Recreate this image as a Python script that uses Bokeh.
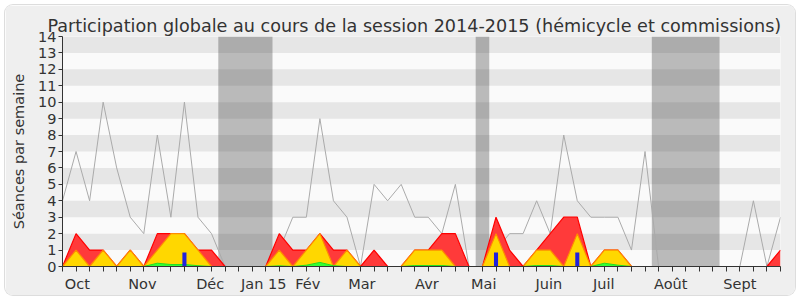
from bokeh.plotting import figure
from bokeh.models import Range1d, FixedTicker, BoxAnnotation, LinearAxis, CustomJSTickFormatter
from bokeh.embed import file_html
from bokeh.resources import INLINE

weeks = list(range(54))
total = [4, 7, 4, 10, 6, 3, 2, 8, 3, 10, 3, 2, 0, 0, 0, 0, 1, 3, 3, 9, 4, 3, 0, 5, 4, 5, 3,
         3, 2, 5, 0, 0, 1, 2, 2, 4, 2, 8, 4, 3, 3, 3, 1, 7, 0, 0, 0, 0, 0, 0, 0, 4, 0, 3]
red = [0, 2, 1, 1, 0, 1, 0, 2, 2, 2, 1, 1, 0, 0, 0, 0, 2, 1, 1, 2, 1, 1, 0, 1, 0, 0, 1,
       1, 2, 2, 0, 0, 3, 1, 0, 1, 2, 3, 3, 0, 1, 1, 0, 0, 0, 0, 0, 0, 0, 0, 0, 0, 0, 1]
yellow = [0, 1, 0, 1, 0, 1, 0, 1, 2, 2, 1, 0, 0, 0, 0, 0, 1, 0, 1, 2, 0, 1, 0, 0, 0, 0, 1,
          1, 1, 0, 0, 0, 2, 0, 0, 1, 1, 0, 2, 0, 1, 1, 0, 0, 0, 0, 0, 0, 0, 0, 0, 0, 0, 0]
green = [0, 0, 0, 0, 0, 0, 0, 0.2, 0.12, 0.12, 0.05, 0, 0, 0, 0, 0, 0.04, 0, 0.08, 0.25, 0.05,
         0, 0, 0, 0, 0, 0.06, 0.06, 0.06, 0, 0, 0, 0, 0, 0, 0.06, 0.06, 0, 0, 0, 0.2, 0.08,
         0, 0, 0, 0, 0, 0, 0, 0, 0, 0, 0, 0]
blue_weeks = [9, 32, 38]
blue_vals = [0.85, 0.85, 0.85]
holiday_start = [11.5, 30.5, 43.5]
holiday_end = [15.5, 31.5, 48.5]
month_labels = ["Oct", "Nov", "Déc", "Jan 15", "Fév", "Mar", "Avr", "Mai", "Juin", "Juil", "Août", "Sept"]
month_pos = [1.1, 5.9, 10.9, 14.85, 18.1, 22.1, 26.9, 31.1, 35.9, 39.95, 44.9, 50.0]
y_ticks = list(range(15))

FONT = "DejaVu Sans"
TXT = "#333333"

p = figure(width=790, height=290, x_range=Range1d(0, 53), y_range=Range1d(0, 14),
           output_backend="svg", toolbar_location=None,
           min_border_left=57, min_border_right=15, min_border_top=31, min_border_bottom=29,
           background_fill_color="#fafafa", border_fill_color="#efefef",
           outline_line_color=None)
p.styles = {"margin-left": "5px", "margin-top": "5px", "border-radius": "8px",
            "overflow": "hidden", "box-shadow": "0 0 0 1px #dddddd"}

p.title.text = "Participation globale au cours de la session 2014-2015 (hémicycle et commissions)"
p.title.text_font = FONT
p.title.text_font_size = "17.6px"
p.title.text_font_style = "normal"
p.title.text_color = TXT
p.title.align = "left"
p.title.offset = -15
p.title.standoff = 2

p.xgrid.visible = False
p.ygrid.visible = False

# alternating horizontal bands
for b in range(1, 14, 2):
    p.add_layout(BoxAnnotation(bottom=y_ticks[b], top=y_ticks[b + 1], fill_color="#e6e6e6",
                               fill_alpha=1, line_color=None, level="underlay"))

# holiday bands
for s, e in zip(holiday_start, holiday_end):
    p.add_layout(BoxAnnotation(left=s, right=e, fill_color="#282828", fill_alpha=0.3,
                               line_color=None, level="underlay"))

p.line(weeks, total, line_color="#aaaaaa", line_width=1)

p.varea(x=weeks, y1=0, y2=red, fill_color="#ff3a3a")
p.line(weeks, red, line_color="#ff0000", line_width=1.2)
p.varea(x=weeks, y1=0, y2=yellow, fill_color="#ffd700")
p.line(weeks, yellow, line_color="#ff8c00", line_width=1.2)
p.varea(x=weeks, y1=0, y2=green, fill_color="#33ff33")
p.line(weeks, green, line_color="#22dd22", line_width=1)
p.vbar(x=blue_weeks, top=blue_vals, bottom=0, width=0.3, fill_color="#2222dd", line_color=None)

# x axis
xa = p.xaxis[0]
xa.ticker = FixedTicker(ticks=month_pos, minor_ticks=weeks)
xa.formatter = CustomJSTickFormatter(args=dict(names=month_labels), code="return names[index];")
xa.major_tick_line_color = None
xa.minor_tick_out = 5
xa.minor_tick_in = 0
xa.minor_tick_line_color = TXT
xa.axis_line_color = TXT
xa.major_label_text_font = FONT
xa.major_label_text_font_size = "14.5px"
xa.major_label_text_color = TXT
xa.major_label_standoff = 3

# y axis
ya = p.yaxis[0]
ya.ticker = FixedTicker(ticks=y_ticks)
ya.minor_tick_line_color = None
ya.major_tick_out = 4
ya.major_tick_in = 0
ya.major_tick_line_color = TXT
ya.axis_line_color = TXT
ya.major_label_text_font = FONT
ya.major_label_text_font_size = "14.5px"
ya.major_label_text_color = TXT
ya.major_label_standoff = 2
ya.axis_label = "Séances par semaine"
ya.axis_label_text_font = FONT
ya.axis_label_text_font_size = "14.5px"
ya.axis_label_text_font_style = "normal"
ya.axis_label_text_color = TXT
ya.axis_label_standoff = 8

open("out.html", "w").write(file_html(p, INLINE))
